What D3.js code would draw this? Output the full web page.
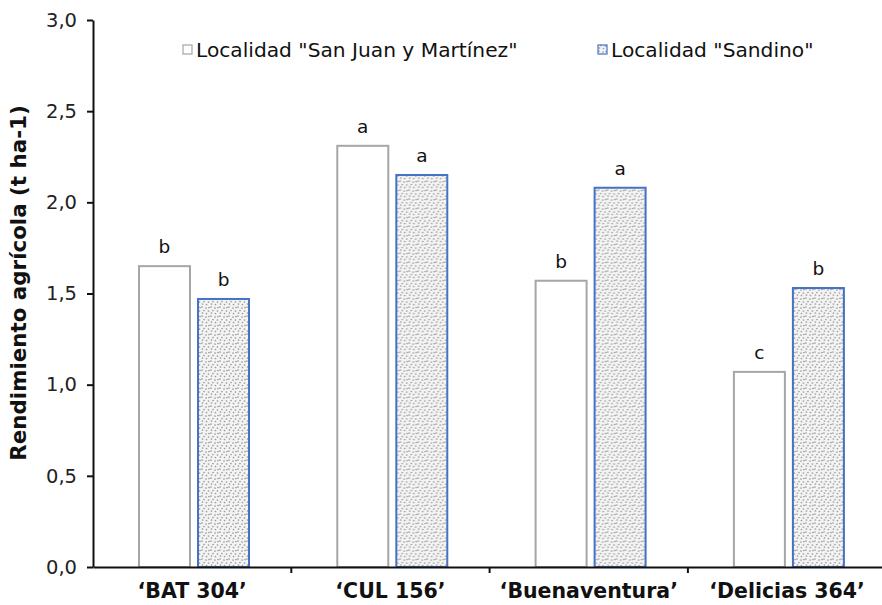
<!DOCTYPE html>
<html>
<head>
<meta charset="utf-8">
<script src="https://cdn.jsdelivr.net/npm/d3@7"></script>
<style>
  html, body { margin: 0; padding: 0; background: #fff; }
  svg { display: block; font-family: "DejaVu Sans", Verdana, sans-serif; }
</style>
</head>
<body>
<svg id="chart" width="882" height="605"></svg>
<script>
// Yield per cultivar at each locality (t ha-1)
const cultivars = ["\u2018BAT 304\u2019", "\u2018CUL 156\u2019", "\u2018Buenaventura\u2019", "\u2018Delicias 364\u2019"];
const series = ["Localidad \"San Juan y Mart\u00ednez\"", "Localidad \"Sandino\""];
const sanJuanValues = [1.65, 2.31, 1.57, 1.07];
const sandinoValues = [1.47, 2.15, 2.08, 1.53];
const sanJuanLetters = ["b", "a", "b", "c"];
const sandinoLetters = ["b", "a", "a", "b"];
const yTicks = [0, 0.5, 1.0, 1.5, 2.0, 2.5, 3.0];

const svg = d3.select("#chart");
const font = "\"DejaVu Sans\", Verdana, sans-serif";

// Stipple fill for the Sandino bars
const defs = svg.append("defs");
const pat = defs.append("pattern")
  .attr("id", "stipple")
  .attr("patternUnits", "userSpaceOnUse")
  .attr("width", 9).attr("height", 9);
pat.append("rect").attr("width", 9).attr("height", 9).attr("fill", "#f4f4f4");
const dots = [[1, 1], [5, 2], [3, 4.5], [7.5, 5], [1.5, 7], [5.5, 7.5], [8, 1.5]];
pat.selectAll("circle").data(dots).join("circle")
  .attr("cx", d => d[0]).attr("cy", d => d[1]).attr("r", 0.85)
  .attr("fill", "#9a9a9a");

const plotLeft = 93, plotTop = 20, plotBottom = 567, bandStep = 198.3;

const x0 = d3.scaleBand()
  .domain(cultivars)
  .range([plotLeft, plotLeft + bandStep * cultivars.length]);

const x1 = d3.scaleBand()
  .domain(series)
  .range([46, 156])
  .paddingInner(0.136);

const y = d3.scaleLinear().domain([0, 3]).range([plotBottom, plotTop]);

const rows = cultivars.map((c, i) => ({
  cultivar: c,
  bars: [
    { s: series[0], v: sanJuanValues[i], letter: sanJuanLetters[i] },
    { s: series[1], v: sandinoValues[i], letter: sandinoLetters[i] }
  ]
}));

const styleFor = {
  [series[0]]: { fill: "#ffffff", stroke: "#a6a6a6" },
  [series[1]]: { fill: "url(#stipple)", stroke: "#4472c4" }
};

// Bars
const groups = svg.append("g").selectAll("g").data(rows).join("g")
  .attr("transform", d => `translate(${x0(d.cultivar)},0)`);

groups.selectAll("rect").data(d => d.bars).join("rect")
  .attr("x", d => x1(d.s))
  .attr("y", d => y(d.v))
  .attr("width", x1.bandwidth())
  .attr("height", d => y(0) - y(d.v))
  .attr("fill", d => styleFor[d.s].fill)
  .attr("stroke", d => styleFor[d.s].stroke)
  .attr("stroke-width", 2);

// Significance letters
groups.selectAll("text").data(d => d.bars).join("text")
  .attr("x", d => x1(d.s) + x1.bandwidth() / 2)
  .attr("y", d => y(d.v) - 13)
  .attr("text-anchor", "middle")
  .attr("font-family", font)
  .attr("font-size", 18.5)
  .attr("fill", "#111")
  .text(d => d.letter);

// Y axis
const fmt = d => d3.format(".1f")(d).replace(".", ",");
const yAxis = svg.append("g")
  .attr("transform", `translate(${plotLeft},0)`)
  .call(d3.axisLeft(y).tickValues(yTicks).tickFormat(fmt).tickSize(6).tickSizeOuter(0).tickPadding(10));
yAxis.select(".domain").attr("stroke", "#111").attr("stroke-width", 2);
yAxis.selectAll(".tick line").attr("stroke", "#111").attr("stroke-width", 2);
yAxis.selectAll(".tick text").attr("font-size", 19.5).attr("fill", "#222")
  .attr("font-family", font);

// X axis
const xAxis = svg.append("g")
  .attr("transform", `translate(0,${plotBottom})`)
  .call(d3.axisBottom(x0).tickSize(0).tickSizeOuter(0).tickPadding(16));
xAxis.select(".domain").attr("stroke", "#111").attr("stroke-width", 2);
xAxis.selectAll(".tick text").attr("font-size", 20.5).attr("font-weight", "bold").attr("fill", "#111")
  .attr("font-family", font);

// Category separator ticks on the x axis
svg.append("g").selectAll("line")
  .data(cultivars.slice(1))
  .join("line")
  .attr("x1", d => x0(d)).attr("x2", d => x0(d))
  .attr("y1", plotBottom).attr("y2", plotBottom + 6)
  .attr("stroke", "#111").attr("stroke-width", 2);

// Y axis title
svg.append("text")
  .attr("transform", `translate(26,283) rotate(-90)`)
  .attr("text-anchor", "middle")
  .attr("font-size", 21.4)
  .attr("font-weight", "bold")
  .attr("font-family", font)
  .attr("fill", "#111")
  .text("Rendimiento agr\u00edcola (t ha-1)");

// Legend
const legendX = [183, 598];
const legend = svg.append("g").selectAll("g").data(series).join("g")
  .attr("transform", (d, i) => `translate(${legendX[i]},50)`);
legend.append("rect")
  .attr("x", 0).attr("y", -5).attr("width", 9).attr("height", 9)
  .attr("fill", d => styleFor[d].fill)
  .attr("stroke", d => styleFor[d].stroke)
  .attr("stroke-width", 1.2);
legend.append("text")
  .attr("x", 13).attr("y", 7)
  .attr("font-size", 20.2)
  .attr("font-family", font)
  .attr("fill", "#111")
  .text(d => d);
</script>
</body>
</html>
